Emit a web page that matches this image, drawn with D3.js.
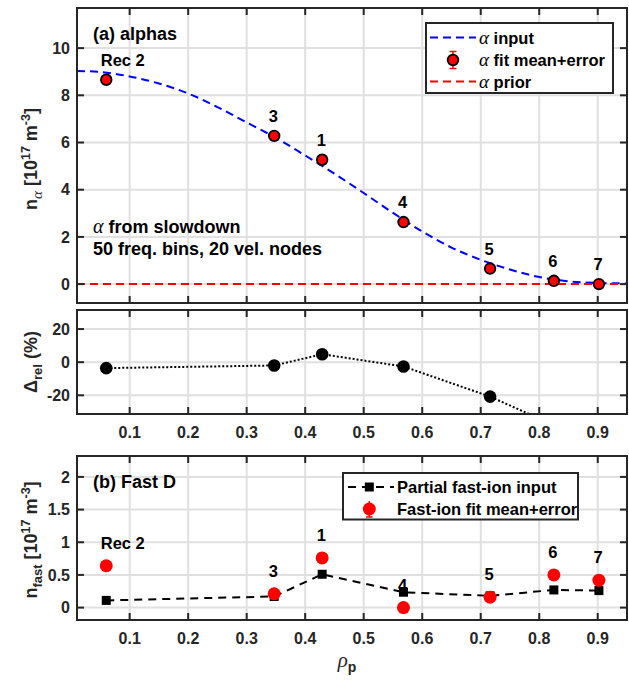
<!DOCTYPE html>
<html><head><meta charset="utf-8">
<script src="https://cdn.jsdelivr.net/npm/d3@7"></script>
<style>
body{margin:0;background:#fff}
svg{display:block}
text{font-family:"Liberation Sans",Arial,Helvetica,sans-serif;font-weight:bold}
.greek{font-family:"Liberation Serif","DejaVu Serif",serif;font-style:italic;font-weight:normal}
</style>
</head><body><svg id="c" width="629" height="681"></svg>
<script>
// ---------------- data ----------------
const rho = [0.06, 0.347, 0.429, 0.568, 0.716, 0.825, 0.902];
const recLabels = ["Rec 2", "3", "1", "4", "5", "6", "7"];
const alphaFit = [8.66, 6.28, 5.27, 2.63, 0.66, 0.14, 0.0];
const alphaErr = [0.06, 0.06, 0.06, 0.06, 0.05, 0.05, 0.05];
const inputRho = [0.01,0.05,0.1,0.15,0.2,0.25,0.3,0.35,0.4,0.45,0.5,0.55,0.6,0.65,0.7,0.75,0.8,0.85,0.9,0.95];
const alphaInput = [9.03,8.99,8.8,8.5,8.08,7.5,6.85,6.2,5.45,4.68,3.86,3.02,2.23,1.55,1.03,0.62,0.3,0.12,0.05,0.03];
const alphaPrior = [0, 0];
const priorRho = [0.01, 0.95];
const deltaRel = [-3.6, -2.0, 4.8, -2.6, -20.8, -38, -60];
const fastInput = [0.11, 0.17, 0.51, 0.235, 0.18, 0.27, 0.26];
const fastFit = [0.64, 0.21, 0.76, 0.0, 0.16, 0.5, 0.42];
const fastErr = [0.02, 0.02, 0.02, 0.02, 0.02, 0.02, 0.02];
const xTicks = [0.1,0.2,0.3,0.4,0.5,0.6,0.7,0.8,0.9];
const yTicksA = [0,2,4,6,8,10];
const yTicksD = [-20,0,20];
const yTicksF = [0,0.5,1,1.5,2];
const yTickLabelsF = ["0","0.5","1","1.5","2"];

// ---------------- layout ----------------
const svg = d3.select("#c");
const AX = "#262626", GRID = "#e0e0e0";
const x = d3.scaleLinear().domain([0.01, 0.95]).range([77, 627]);

function panel(id, top, bottom, dom, yt, ylabs, xlabels) {
  const y = d3.scaleLinear().domain(dom).range([bottom, top]);
  const g = svg.append("g");
  g.append("clipPath").attr("id", id).append("rect")
    .attr("x", x.range()[0]).attr("y", top).attr("width", x.range()[1]-x.range()[0]).attr("height", bottom-top);
  const grid = g.append("g");
  grid.selectAll(".vx").data(xTicks).join("line")
    .attr("x1", d=>x(d)).attr("x2", d=>x(d)).attr("y1", top).attr("y2", bottom)
    .attr("stroke", GRID).attr("stroke-width", 2);
  grid.selectAll(".hy").data(yt).join("line")
    .attr("y1", d=>y(d)).attr("y2", d=>y(d)).attr("x1", x.range()[0]).attr("x2", x.range()[1])
    .attr("stroke", GRID).attr("stroke-width", 2);
  const content = g.append("g").attr("clip-path", `url(#${id})`);
  const front = g.append("g");
  return {y, g, content, front, top, bottom, yt, ylabs, xlabels};
}
function frame(p) {
  const {y, top, bottom, yt, ylabs, xlabels} = p;
  const f = svg.append("g");
  const x0 = x.range()[0], x1 = x.range()[1], tl = 7;
  f.append("rect").attr("x", x0).attr("y", top).attr("width", x1-x0).attr("height", bottom-top)
    .attr("fill","none").attr("stroke", AX).attr("stroke-width", 2);
  xTicks.forEach(t=>{
    f.append("line").attr("x1",x(t)).attr("x2",x(t)).attr("y1",bottom).attr("y2",bottom-tl).attr("stroke",AX).attr("stroke-width",2);
    f.append("line").attr("x1",x(t)).attr("x2",x(t)).attr("y1",top).attr("y2",top+tl).attr("stroke",AX).attr("stroke-width",2);
  });
  yt.forEach((t,i)=>{
    f.append("line").attr("x1",x0).attr("x2",x0+tl).attr("y1",y(t)).attr("y2",y(t)).attr("stroke",AX).attr("stroke-width",2);
    f.append("line").attr("x1",x1).attr("x2",x1-tl).attr("y1",y(t)).attr("y2",y(t)).attr("stroke",AX).attr("stroke-width",2);
    f.append("text").attr("x", x0-7).attr("y", y(t)).attr("dy","0.36em").attr("text-anchor","end")
      .attr("font-size",16).attr("fill",AX).text(ylabs[i]);
  });
  if (xlabels) {
    xTicks.forEach(t=>{
      f.append("text").attr("x", x(t)).attr("y", bottom+24).attr("text-anchor","middle")
        .attr("font-size",16).attr("fill",AX).text(d3.format(".1f")(t));
    });
  }
}

// ---------------- panel (a) ----------------
const pA = panel("clipA", 8, 303, [-0.8, 11.7], yTicksA, yTicksA.map(String), false);
const lineA = d3.line().x((d,i)=>x(inputRho[i])).y(d=>pA.y(d)).curve(d3.curveMonotoneX);
pA.content.append("path").datum(alphaInput).attr("d", lineA).attr("fill","none")
  .attr("stroke","#0000ff").attr("stroke-width",2).attr("stroke-dasharray","8,5");
pA.content.append("path").datum(alphaPrior)
  .attr("d", d3.line().x((d,i)=>x(priorRho[i])).y(d=>pA.y(d)))
  .attr("stroke","#ff0000").attr("stroke-width",2).attr("stroke-dasharray","8,5").attr("fill","none");
rho.forEach((r,i)=>{
  const cx = x(r);
  pA.content.append("line").attr("x1",cx).attr("x2",cx)
    .attr("y1",pA.y(alphaFit[i]-alphaErr[i])).attr("y2",pA.y(alphaFit[i]+alphaErr[i]))
    .attr("stroke","#ff0000").attr("stroke-width",1.5);
  pA.content.append("circle").attr("cx",cx).attr("cy",pA.y(alphaFit[i])).attr("r",5.3)
    .attr("fill","#ff0000").attr("stroke","#000").attr("stroke-width",1.8);
  pA.front.append("text").attr("x",cx-5.5).attr("y",pA.y(alphaFit[i])-14)
    .attr("font-size",16.5).attr("fill","#000").text(recLabels[i]);
});
pA.front.append("text").attr("x",93).attr("y",40).attr("font-size",18).text("(a) alphas");
const t1 = pA.front.append("text").attr("x",93).attr("y",233).attr("font-size",18);
t1.append("tspan").attr("class","greek").attr("font-size",20).text("α");
t1.append("tspan").text(" from slowdown");
pA.front.append("text").attr("x",93).attr("y",255).attr("font-size",18).text("50 freq. bins, 20 vel. nodes");
// legend (a)
const lgA = pA.front.append("g");
lgA.append("rect").attr("x",426).attr("y",23).attr("width",187).attr("height",70)
  .attr("fill","#fff").attr("stroke",AX).attr("stroke-width",2);
const rowsA = [37.5, 60, 81.5];
lgA.append("line").attr("x1",430).attr("x2",476).attr("y1",rowsA[0]).attr("y2",rowsA[0])
  .attr("stroke","#0000ff").attr("stroke-width",2).attr("stroke-dasharray","8,5");
lgA.append("line").attr("x1",453).attr("x2",453).attr("y1",rowsA[1]-8.5).attr("y2",rowsA[1]+8.5).attr("stroke","#ff0000").attr("stroke-width",1.5);
lgA.append("line").attr("x1",449.5).attr("x2",456.5).attr("y1",rowsA[1]-8.5).attr("y2",rowsA[1]-8.5).attr("stroke","#ff0000").attr("stroke-width",1.5);
lgA.append("line").attr("x1",449.5).attr("x2",456.5).attr("y1",rowsA[1]+8.5).attr("y2",rowsA[1]+8.5).attr("stroke","#ff0000").attr("stroke-width",1.5);
lgA.append("circle").attr("cx",453).attr("cy",rowsA[1]).attr("r",5.3).attr("fill","#ff0000").attr("stroke","#000").attr("stroke-width",1.8);
lgA.append("line").attr("x1",430).attr("x2",476).attr("y1",rowsA[2]).attr("y2",rowsA[2])
  .attr("stroke","#ff0000").attr("stroke-width",2).attr("stroke-dasharray","8,5");
["input","fit mean+error","prior"].forEach((s,i)=>{
  const t = lgA.append("text").attr("x",479).attr("y",rowsA[i]+6).attr("font-size",16.5).attr("fill","#000");
  t.append("tspan").attr("class","greek").attr("font-size",19).text("α");
  t.append("tspan").text(" "+s);
});
frame(pA);

// ---------------- panel delta ----------------
const pD = panel("clipD", 310, 414, [-31.3, 31.5], yTicksD, yTicksD.map(String), true);
pD.content.append("path").datum(deltaRel)
  .attr("d", d3.line().x((d,i)=>x(rho[i])).y(d=>pD.y(d)))
  .attr("fill","none").attr("stroke","#000").attr("stroke-width",2).attr("stroke-dasharray","2,2");
pD.content.selectAll("circle").data(deltaRel).join("circle")
  .attr("cx",(d,i)=>x(rho[i])).attr("cy",d=>pD.y(d)).attr("r",6.3).attr("fill","#000");
frame(pD);

// ---------------- panel (b) ----------------
const pF = panel("clipF", 456, 620, [-0.19, 2.32], yTicksF, yTickLabelsF, true);
pF.content.append("path").datum(fastInput)
  .attr("d", d3.line().x((d,i)=>x(rho[i])).y(d=>pF.y(d)))
  .attr("fill","none").attr("stroke","#000").attr("stroke-width",2).attr("stroke-dasharray","8,6");
pF.content.selectAll("rect.sq").data(fastInput).join("rect").attr("class","sq")
  .attr("x",(d,i)=>x(rho[i])-4.5).attr("y",d=>pF.y(d)-4.5).attr("width",9).attr("height",9).attr("fill","#000");
rho.forEach((r,i)=>{
  pF.content.append("line").attr("x1",x(r)).attr("x2",x(r))
    .attr("y1",pF.y(fastFit[i]-fastErr[i])).attr("y2",pF.y(fastFit[i]+fastErr[i]))
    .attr("stroke","#ff0000").attr("stroke-width",1.5);
  pF.content.append("circle").attr("cx",x(r)).attr("cy",pF.y(fastFit[i])).attr("r",6.5).attr("fill","#ff0000");
  pF.front.append("text").attr("x",x(r)-5.5).attr("y",pF.y(fastFit[i])-17)
    .attr("font-size",16.5).attr("fill","#000").text(recLabels[i]);
});
pF.front.append("text").attr("x",93).attr("y",488).attr("font-size",18).text("(b) Fast D");
const lgF = pF.front.append("g");
lgF.append("rect").attr("x",343).attr("y",473).attr("width",235).attr("height",46.5)
  .attr("fill","#fff").attr("stroke",AX).attr("stroke-width",2);
const rowsF = [487, 509];
lgF.append("line").attr("x1",348).attr("x2",394).attr("y1",rowsF[0]).attr("y2",rowsF[0])
  .attr("stroke","#000").attr("stroke-width",2).attr("stroke-dasharray","8,6");
lgF.append("rect").attr("x",369.3-4.5).attr("y",rowsF[0]-4.5).attr("width",9).attr("height",9).attr("fill","#000");
lgF.append("line").attr("x1",369.3).attr("x2",369.3).attr("y1",rowsF[1]-8).attr("y2",rowsF[1]+8).attr("stroke","#ff0000").attr("stroke-width",1.5);
lgF.append("line").attr("x1",366).attr("x2",372.6).attr("y1",rowsF[1]+8).attr("y2",rowsF[1]+8).attr("stroke","#ff0000").attr("stroke-width",1.5);
lgF.append("circle").attr("cx",369.3).attr("cy",rowsF[1]).attr("r",6.5).attr("fill","#ff0000");
["Partial fast-ion input","Fast-ion fit mean+error"].forEach((s,i)=>{
  lgF.append("text").attr("x",397).attr("y",rowsF[i]+6).attr("font-size",16.5).attr("fill","#000").text(s);
});
frame(pF);

// ---------------- axis titles ----------------
function ylab(cx, cy, parts) {
  const t = svg.append("text").attr("transform",`translate(${cx},${cy}) rotate(-90)`)
    .attr("text-anchor","middle").attr("font-size",18).attr("fill",AX);
  parts.forEach(p=>{
    const s = t.append("tspan").text(p.t);
    if (p.cls) s.attr("class",p.cls);
    if (p.fs) s.attr("font-size",p.fs);
    if (p.dy) s.attr("dy",p.dy);
  });
}
ylab(36.5, 159, [
  {t:"n"},{t:"α",cls:"greek",fs:15,dy:5},{t:" [10",dy:-5},{t:"17",fs:12.5,dy:-7},
  {t:" m",dy:7},{t:"-3",fs:12.5,dy:-7},{t:"]",dy:7}]);
ylab(37, 362, [{t:"Δ"},{t:"rel",fs:13,dy:5},{t:" (%)",dy:-5}]);
ylab(36.5, 540, [
  {t:"n"},{t:"fast",fs:13,dy:5},{t:" [10",dy:-5},{t:"17",fs:12.5,dy:-7},
  {t:" m",dy:7},{t:"-3",fs:12.5,dy:-7},{t:"]",dy:7}]);
const xl = svg.append("text").attr("x",347).attr("y",667).attr("text-anchor","middle").attr("font-size",18).attr("fill",AX);
xl.append("tspan").attr("class","greek").attr("font-size",21).text("ρ");
xl.append("tspan").attr("font-size",14).attr("dy",5).text("p");
</script>
</body></html>
